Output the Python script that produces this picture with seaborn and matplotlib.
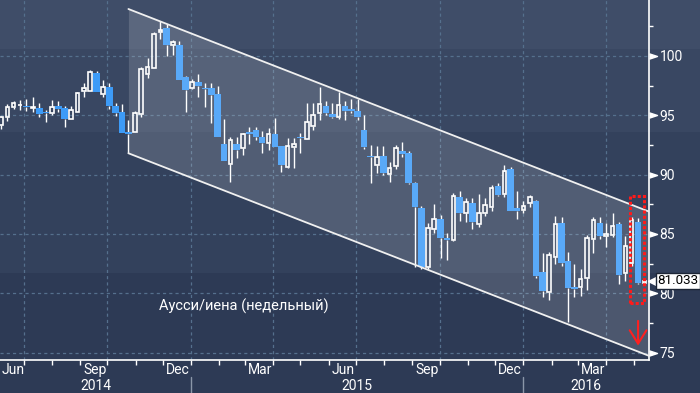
import numpy as np
import pandas as pd
import matplotlib
matplotlib.use("Agg")
import matplotlib.pyplot as plt
import matplotlib.dates as mdates
import matplotlib.transforms as mtransforms
from matplotlib.patches import Rectangle
from matplotlib.ticker import FixedLocator, NullFormatter
import seaborn as sns

# weekly AUD/JPY candles, first bar is the week ending 2014-06-06
first_week = "2014-06-06"
opens = [94.18, 94.86, 95.70, 95.85, 95.78, 95.60, 95.64, 95.30, 95.22, 95.78,
         95.62, 94.66, 95.30, 97.02, 97.07, 98.60, 96.80, 97.36, 95.78, 95.25,
         93.60, 93.62, 95.14, 98.48, 98.96, 102.00, 102.39, 100.95, 100.93, 98.23,
         97.30, 97.83, 97.33, 97.28, 96.80, 92.58, 90.87, 92.58, 92.22, 93.60,
         93.76, 93.20, 92.69, 93.40, 92.41, 90.67, 92.35, 93.20, 92.98, 94.12,
         95.17, 95.78, 95.10, 94.88, 95.78, 95.56, 95.36, 93.76, 91.59, 90.81,
         91.57, 90.03, 90.73, 91.99, 91.79, 89.27, 87.18, 82.18, 85.40, 86.23,
         84.68, 84.46, 88.14, 86.79, 87.58, 85.83, 86.79, 87.24, 89.04, 88.36,
         90.45, 87.21, 87.00, 87.58, 87.77, 81.79, 80.08, 83.07, 85.89, 82.71,
         80.50, 80.50, 81.26, 84.55, 85.95, 84.80, 84.91, 85.81, 81.73, 82.57,
         86.03, 80.90]
highs = [94.95, 95.95, 96.20, 96.29, 96.37, 96.54, 96.01, 95.45, 96.29, 96.20,
         95.78, 95.78, 96.96, 97.70, 98.82, 98.76, 97.98, 97.70, 96.06, 95.93,
         94.60, 95.36, 99.10, 99.86, 102.05, 102.95, 102.70, 101.35, 101.26, 98.30,
         98.06, 98.48, 97.75, 97.70, 97.47, 94.69, 93.20, 93.20, 93.53, 94.04,
         94.00, 93.68, 93.96, 94.75, 92.41, 93.11, 93.11, 93.53, 96.06, 96.00,
         97.41, 96.20, 96.06, 96.99, 96.20, 96.37, 96.37, 95.03, 92.50, 92.44,
         92.40, 91.09, 92.50, 92.77, 92.00, 89.40, 87.35, 85.89, 87.55, 86.59,
         85.10, 88.42, 88.64, 88.00, 88.00, 88.36, 88.05, 89.12, 89.30, 90.81,
         90.62, 88.64, 87.80, 88.28, 87.90, 83.41, 83.50, 86.51, 86.40, 83.50,
         82.46, 82.01, 84.90, 86.40, 86.40, 85.89, 86.74, 86.03, 84.82, 86.45,
         86.30, 81.10]
lows = [93.84, 94.52, 95.53, 95.45, 95.36, 95.28, 94.83, 94.46, 95.03, 95.30,
        94.04, 94.66, 95.30, 96.57, 97.07, 96.95, 96.52, 95.50, 94.94, 93.53,
        91.80, 93.60, 94.83, 98.12, 98.96, 101.41, 100.00, 100.08, 97.98, 95.30,
        97.19, 96.57, 95.73, 94.38, 93.20, 91.15, 89.40, 91.37, 91.65, 92.58,
        92.90, 91.85, 92.07, 92.30, 90.24, 90.58, 90.58, 91.85, 92.98, 93.76,
        94.60, 95.03, 94.80, 94.69, 94.60, 95.20, 94.60, 92.20, 89.27, 90.11,
        89.97, 89.40, 90.50, 91.50, 89.20, 82.20, 82.00, 82.00, 85.05, 82.94,
        82.81, 84.40, 86.09, 86.03, 85.41, 85.60, 86.50, 86.90, 88.20, 88.14,
        86.90, 86.26, 86.74, 87.24, 81.30, 79.65, 79.43, 82.50, 82.30, 77.60,
        79.71, 79.76, 80.27, 83.36, 84.60, 83.92, 84.70, 80.75, 81.00, 82.30,
        80.80, 80.85]
closes = [94.86, 95.70, 96.04, 95.87, 95.67, 95.62, 95.13, 95.17, 95.73, 95.53,
          94.66, 95.45, 96.85, 97.28, 98.68, 96.99, 97.36, 95.81, 95.22, 93.53,
          93.45, 95.17, 98.90, 99.10, 101.85, 102.19, 100.95, 101.18, 97.98, 97.13,
          97.81, 97.47, 97.19, 96.71, 93.20, 91.15, 92.89, 92.10, 93.40, 93.42,
          93.20, 92.69, 93.40, 92.35, 90.81, 92.41, 92.58, 93.11, 94.41, 95.00,
          95.93, 95.17, 94.88, 95.84, 95.39, 95.39, 94.88, 92.35, 91.45, 91.46,
          90.16, 90.53, 92.22, 91.71, 89.27, 87.29, 82.18, 85.47, 86.25, 84.68,
          84.49, 88.20, 86.79, 87.66, 86.03, 86.74, 87.44, 88.84, 88.28, 90.33,
          86.96, 86.93, 87.35, 88.09, 81.45, 80.21, 83.20, 85.83, 82.57, 80.46,
          80.35, 81.17, 84.63, 86.17, 84.82, 84.99, 85.67, 81.53, 83.98, 86.17,
          80.89, 81.03]
last_price = 81.033

# downward channel, drawn from the 21st week onwards
channel_start_week = 20
channel_top = 103.96
channel_bottom = 91.80
channel_slope = -0.209  # per week

highlight_low, highlight_high = 79.2, 88.2
arrow_top, arrow_bottom = 77.9, 75.35

y_ticks = [75, 80, 85, 90, 95, 100]
y_minor = [77.5, 82.5, 87.5, 92.5, 97.5, 102.5]
label_months = [("Jun", "2014-06-19"), ("Sep", "2014-09-17"), ("Dec", "2014-12-17"),
                ("Mar", "2015-03-18"), ("Jun", "2015-06-17"), ("Sep", "2015-09-17"),
                ("Dec", "2015-12-17"), ("Mar", "2016-03-18")]
year_breaks = ["2015-01-01", "2016-01-01"]
years = ["2014", "2015", "2016"]
title = "Аусси/иена (недельный)"

BLUE = "#3d9bf7"
GRID = "#55708d"

sns.set_theme(style="dark")
plt.rcParams["font.family"] = ["Roboto", "DejaVu Sans"]

df = pd.DataFrame({"date": pd.date_range(first_week, periods=len(opens), freq="7D"),
                   "open": opens, "high": highs, "low": lows, "close": closes})
df["x"] = mdates.date2num(df["date"])
df["up"] = df["close"] >= df["open"]
df["top"] = df[["open", "close"]].max(axis=1)
df["bot"] = df[["open", "close"]].min(axis=1)

fig = plt.figure(figsize=(7, 3.93), dpi=100)

# banded backdrop
bg = fig.add_axes([0, 0, 1, 1], zorder=0)
bg.set_xlim(0, 1)
bg.set_ylim(0, 1)
bg.axis("off")
bands = [(0.875, 1.0, "#3f4d68"), (0.664, 0.875, "#394762"),
         (0.305, 0.664, "#33415c"), (0.0, 0.305, "#2d3a55")]
for lo, hi, col in bands:
    bg.axhspan(lo, hi, color=col, lw=0)

ax = fig.add_axes([0, 33 / 393, 649 / 700, 360 / 393], zorder=1)
ax.set_facecolor("none")

x0 = df["x"].iloc[0]
ax.set_xlim(x0 - 1.1, x0 + 712)
ax.set_ylim(74.37, 104.72)

# candles
dn = df[~df["up"]]
upc = df[df["up"]]
ax.vlines(df["x"], df["top"], df["high"], color="white", lw=1, zorder=3)
ax.vlines(df["x"], df["low"], df["bot"], color="white", lw=1, zorder=3)
ax.bar(dn["x"], dn["top"] - dn["bot"], bottom=dn["bot"], width=7.2,
       color=BLUE, lw=0, zorder=3)
ax.bar(upc["x"], (upc["top"] - upc["bot"]).clip(lower=0.06), bottom=upc["bot"],
       width=3.8, facecolor="none", edgecolor="white", lw=1.2, zorder=3)

# channel
cx = np.array([df["x"].iloc[channel_start_week], x0 + 720])
weeks = (cx - cx[0]) / 7
c_top = channel_top + channel_slope * weeks
c_bot = channel_bottom + channel_slope * weeks
ax.fill_between(cx, c_bot, c_top, color="white", alpha=0.15, lw=0, zorder=4)
sns.lineplot(x=cx, y=c_top, ax=ax, color="#f0f0f0", lw=1.3, zorder=5)
sns.lineplot(x=cx, y=c_bot, ax=ax, color="#f0f0f0", lw=1.3, zorder=5)

# highlight of the last two weeks
hx0 = df["x"].iloc[-3] - 1.5
ax.add_patch(Rectangle((hx0, highlight_low), df["x"].iloc[-1] - hx0,
                       highlight_high - highlight_low, fill=False, ec="#ff1a1a",
                       lw=2.2, ls=(0, (1, 0.7)), zorder=6))
ax.annotate("", xy=(df["x"].iloc[-2], arrow_bottom), xytext=(df["x"].iloc[-2], arrow_top),
            arrowprops=dict(arrowstyle="->,head_length=0.8,head_width=0.5",
                            color="#ff2020", lw=1.5), zorder=6)

# grid
ax.xaxis.set_major_locator(mdates.MonthLocator(bymonth=[1, 4, 7, 10]))
ax.xaxis.set_minor_locator(mdates.MonthLocator())
ax.xaxis.set_major_formatter(NullFormatter())
ax.yaxis.set_major_locator(FixedLocator(y_ticks))
ax.yaxis.set_minor_locator(FixedLocator(y_minor))
ax.grid(True, which="major", color=GRID, lw=0.9, ls=(0, (2.5, 2.5)))
ax.set_axisbelow(True)

for s in ["top", "left"]:
    ax.spines[s].set_visible(False)
for s in ["bottom", "right"]:
    ax.spines[s].set_color("white")
    ax.spines[s].set_linewidth(1.2)

ax.yaxis.tick_right()
ax.tick_params(axis="y", which="major", length=0, pad=7.5, labelcolor="white",
               labelsize=10)
ax.tick_params(axis="y", which="minor", right=True, length=3, width=1, color="white")
ax.tick_params(axis="x", which="both", bottom=True, length=3.5, width=1, color="white")

tr_y = mtransforms.blended_transform_factory(ax.transAxes, ax.transData)
tr_x = mtransforms.blended_transform_factory(ax.transData, ax.transAxes)
ax.plot([1.0] * len(y_ticks), y_ticks, transform=tr_y, ls="none",
        marker=[(0, -0.33), (1, 0), (0, 0.33)], ms=11.5, color="white",
        clip_on=False, zorder=6)

for lab, d in label_months:
    ax.text(mdates.datestr2num(d), -0.028, lab, transform=tr_x, ha="center",
            va="center", color="white", fontsize=10)
xl = ax.get_xlim()
yb = [mdates.datestr2num(d) for d in year_breaks]
edges = [xl[0]] + yb + [xl[1]]
for i, yr in enumerate(years):
    ax.text((edges[i] + edges[i + 1]) / 2, -0.072, yr, transform=tr_x, ha="center",
            va="center", color="white", fontsize=10)
for b in yb:
    ax.plot([b, b], [-0.047, -0.1], transform=tr_x, color="#8a96a8", lw=1,
            clip_on=False)

ax.text(0.2455, 0.15, title, transform=ax.transAxes, ha="left", va="center",
        color="white", fontsize=10.5, zorder=6)

# last price tag
ax.plot([1.006], [last_price], transform=tr_y, marker="<", ms=6.5, color="white",
        clip_on=False, zorder=9)
ax.text(1.0125, last_price, f"{last_price:.3f}", transform=tr_y, ha="left", va="center",
        color="black", fontsize=9.6, zorder=10, clip_on=False,
        bbox=dict(boxstyle="square,pad=0.12", fc="white", ec="#1c2535", lw=1))

ax.set_xlabel("")
ax.set_ylabel("")
fig.savefig("out.png", dpi=100)
